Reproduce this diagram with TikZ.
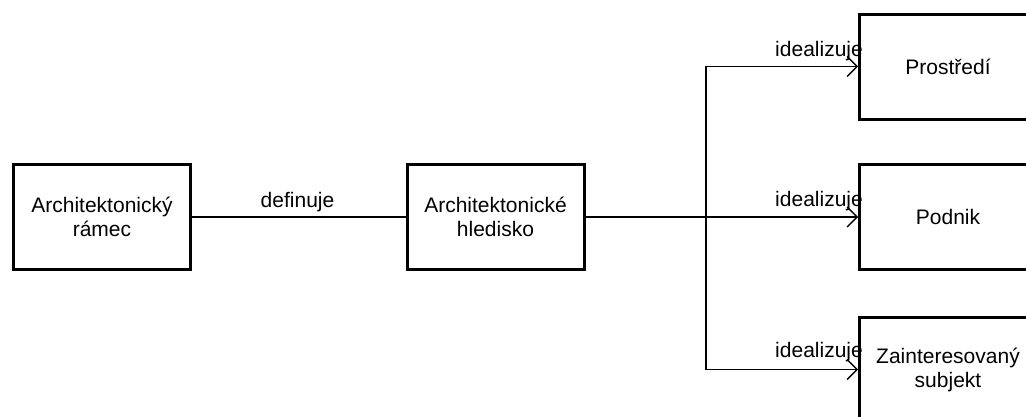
\documentclass[tikz,border=0pt]{standalone}
\usepackage{fontspec}
\setmainfont{Liberation Sans}
\usetikzlibrary{arrows.meta}

\tikzset{
  box/.style={draw, line width=3pt, minimum width=177pt, minimum height=105pt,
              align=center, inner sep=0pt, font=\fontsize{21}{24}\selectfont},
  link/.style={line width=1.3pt},
  arr/.style={link, -{Straight Barb[length=10pt, width=20pt, line width=1.3pt]}},
  lbl/.style={font=\fontsize{21}{24}\selectfont, inner sep=0pt, anchor=base east}
}

\begin{document}
\begin{tikzpicture}[x=1pt, y=-1pt]
  \useasboundingbox (0,0) rectangle (1026,416);
  \clip (0,0) rectangle (1026,416);

  % boxes
  \node[box] (ramec) at (102,217) {Architektonický\\rámec};
  \node[box] (hled)  at (495.5,217) {Architektonické\\hledisko};
  \node[box] (prost) at (948,66.5) {Prostředí};
  \node[box] (podn)  at (948,217) {Podnik};
  \node[box] (subj)  at (948,369.5) {Zainteresovaný\\subjekt};

  % framework defines the viewpoint
  \draw[link] (ramec.east) -- (hled.west);
  \node[font=\fontsize{21}{24}\selectfont, inner sep=0pt, anchor=base]
    (def) at (297.5,207) {definuje};

  % viewpoint idealizes the three concepts
  \coordinate (j) at (706,217);
  \draw[link] (hled.east) -- (j);
  \draw[arr] (j) |- (prost.west);
  \draw[arr] (j) -- (podn.west);
  \draw[arr] (j) |- (subj.west);

  \node[lbl] (l1) at (863,56) {idealizuje};
  \node[lbl] (l2) at (863,206) {idealizuje};
  \node[lbl] (l3) at (863,357) {idealizuje};
\end{tikzpicture}
\end{document}
